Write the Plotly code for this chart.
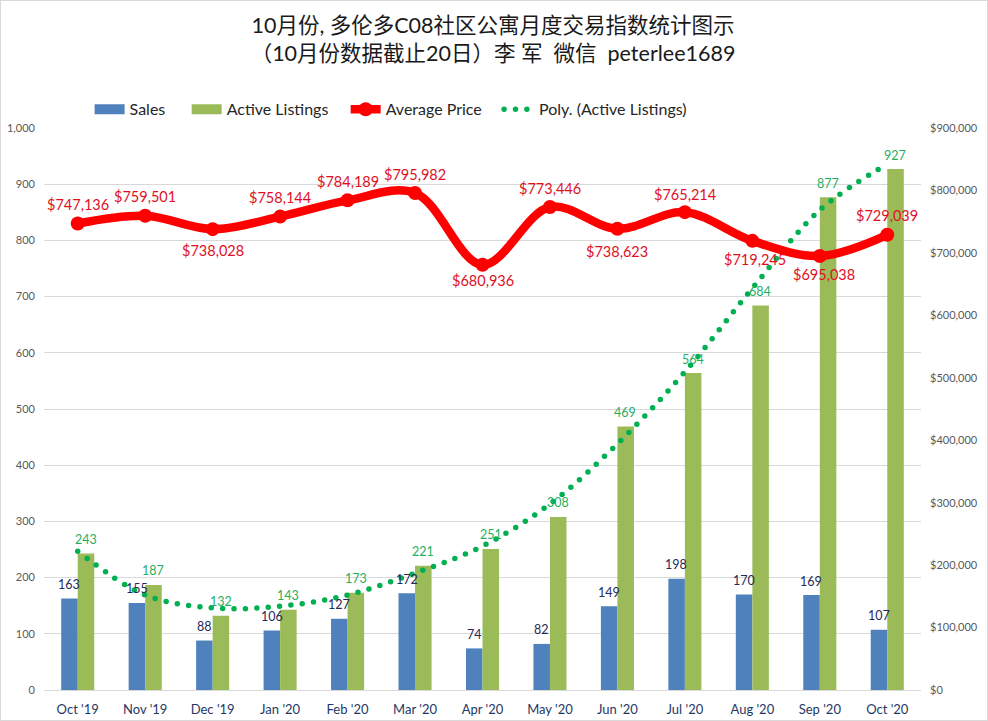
import plotly.graph_objects as go

months = ["Oct '19", "Nov '19", "Dec '19", "Jan '20", "Feb '20", "Mar '20", "Apr '20",
          "May '20", "Jun '20", "Jul '20", "Aug '20", "Sep '20", "Oct '20"]
sales = [163, 155, 88, 106, 127, 172, 74, 82, 149, 198, 170, 169, 107]
listings = [243, 187, 132, 143, 173, 221, 251, 308, 469, 564, 684, 877, 927]
price = [747136, 759501, 738028, 758144, 784189, 795982, 680936, 773446, 738623, 765214, 719245, 695038, 729039]
trend = [247, 169, 146, 149, 169, 208, 256, 331, 438, 566, 715, 854, 936]

price_dy = [19, 19, -21, 19, 19, 18, -16, 19, -23, 18, -19, -19, 19]
price_dx = [0, 0, 0, 0, 0, 0, 0, 0, 0, 0, 3, 4, 0]

BLUE, GREEN, RED, DOT = "#4F81BD", "#9BBB59", "#FF0000", "#00B050"
FONT = "Lato, 'Noto Sans CJK SC', sans-serif"
NB = "\u00a0"

fig = go.Figure()
fig.add_bar(x=months, y=sales, name="Sales", marker=dict(color=BLUE, line_width=0), showlegend=False)
fig.add_bar(x=months, y=listings, name="Active Listings", marker=dict(color=GREEN, line_width=0), showlegend=False)
fig.add_scatter(x=[None], y=[None], mode="lines", name="Sales" + NB * 4, line=dict(color=BLUE, width=10))
fig.add_scatter(x=[None], y=[None], mode="lines", name="Active Listings" + NB * 3, line=dict(color=GREEN, width=10))
fig.add_scatter(x=months, y=price, yaxis="y2", name="Average Price" + NB * 3, mode="lines+markers",
                line=dict(color=RED, width=8.5, shape="spline", smoothing=1.0),
                marker=dict(color=RED, size=14))
fig.add_scatter(x=months, y=trend, name="Poly. (Active Listings)", mode="lines",
                line=dict(color=DOT, width=5.5, dash="0px,11.4px", shape="spline", smoothing=1.0))

ann = []
for m, v in zip(months, sales):
    ann.append(dict(x=m, y=v, text=str(v), showarrow=False, xshift=-8.5, yshift=14,
                    font=dict(size=12.5, color="#1F2A5A", family=FONT)))
for m, v in zip(months, listings):
    ann.append(dict(x=m, y=v, text=str(v), showarrow=False, xshift=8, yshift=14,
                    font=dict(size=12.5, color="#1FAF5F", family=FONT)))
for m, v, dx, dy in zip(months, price, price_dx, price_dy):
    ann.append(dict(x=m, y=v, yref="y2", text=f"${v:,}", showarrow=False, xshift=dx, yshift=dy,
                    font=dict(size=14.5, color="#E0101F", family=FONT)))

fig.update_layout(
    width=988, height=721, paper_bgcolor="white", plot_bgcolor="white",
    margin=dict(l=44, r=67, t=128, b=31, autoexpand=False),
    font=dict(family=FONT),
    barmode="group", bargap=0.51, bargroupgap=0,
    title=dict(text="10月份, 多伦多C08社区公寓月度交易指数统计图示<br>（10月份数据截止20日）李 军  微信  peterlee1689",
               x=0.499, xanchor="center", y=0.954, yanchor="middle",
               font=dict(size=21.5, color="#1a1a1a", family=FONT)),
    xaxis=dict(type="category", categoryorder="array", categoryarray=months, range=[-0.5, 12.5],
               showgrid=False, showline=True, linecolor="#D9D9D9", ticks="", ticklabelstandoff=7,
               tickfont=dict(size=13, color="#1F3864", family=FONT)),
    yaxis=dict(range=[0, 1000], dtick=100, tickformat=",d", gridcolor="#D9D9D9", gridwidth=1,
               zeroline=False, ticks="", ticklabelstandoff=8,
               tickfont=dict(size=11, color="#595959", family=FONT)),
    yaxis2=dict(range=[0, 900000], dtick=100000, overlaying="y", side="right", tickformat="$,d",
                showgrid=False, zeroline=False, ticks="", ticklabelstandoff=8,
                tickfont=dict(size=11, color="#595959", family=FONT)),
    legend=dict(orientation="h", x=0.052, y=1.003, xanchor="left", yanchor="bottom",
                font=dict(size=16, color="#262626", family=FONT), traceorder="normal",
                bgcolor="rgba(0,0,0,0)"),
    annotations=ann,
    shapes=[dict(type="rect", xref="paper", yref="paper", x0=-44/877, x1=1+67/877,
                 y0=-31/562, y1=1+128/562, line=dict(color="#D9D9D9", width=2), layer="below")],
)

page_fix = """
document.body.style.margin = '0';
document.querySelectorAll('path').forEach(function (p) {
  var d = p.style.strokeDasharray || '';
  if (d.indexOf('11.4') >= 0) { p.style.strokeLinecap = 'round'; }
});
"""
fig.write_html("out.html", post_script=page_fix, config=dict(displayModeBar=False))
